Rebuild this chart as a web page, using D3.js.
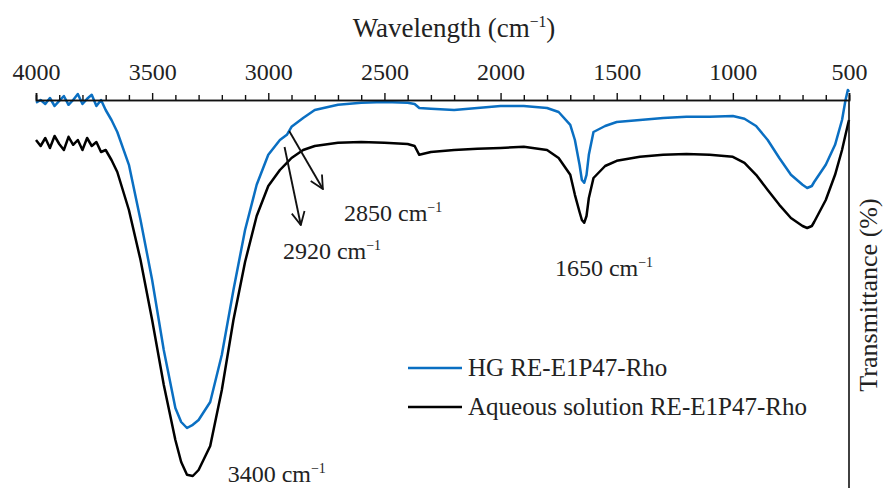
<!DOCTYPE html>
<html>
<head>
<meta charset="utf-8">
<script src="https://d3js.org/d3.v7.min.js"></script>
<style>
  body { margin: 0; background: #fff; }
  text { font-family: "Liberation Serif", "Times New Roman", serif; fill: #222; }
</style>
</head>
<body>
<script>
// wavenumbers (cm-1), shared by both spectra
var wavenumbers = [4000,3980,3960,3940,3920,3900,3880,3860,3840,3820,3800,3780,3760,3740,3720,3700,
  3675,3650,3600,3550,3500,3450,3400,3375,3350,3325,3300,3250,3200,3150,3100,3050,3000,2950,2920,2900,
  2850,2800,2700,2600,2500,2400,2370,2350,2300,2200,2100,2000,1900,1800,1750,1700,1680,1660,1650,1640,
  1630,1620,1600,1550,1500,1400,1300,1200,1100,1000,950,900,850,800,750,700,680,660,650,600,560,530,515,505,500];

// transmittance (arbitrary %)
var hgValues = [96.8,97.5,96.5,98,96,97.3,98.5,96.3,97.5,99,96.5,97.8,98.8,96,97.5,95,
  92.5,89.5,81.3,67.5,52.5,35,20.5,17,15.5,16.3,17.5,22,33.8,50,65,76.3,83.8,87.5,88.8,90.8,
  93,95,96.3,96.8,97,96.8,96.5,95.5,95.3,95,95.5,96,96,95.5,94.5,91.3,87.5,81.3,77.5,76.8,
  78.8,83.8,89.5,91,92,92.5,93,93.3,93.3,93.5,92.8,91,87.5,83,78.8,76.3,75.5,76,77,81.3,86.3,92.5,97.5,100,99.5];

var aqValues = [87.5,86,88,85.5,88.5,86.5,85,88.3,86.3,87.5,85,88,86,87,84.5,85,
  82.5,79.5,70,57.5,42.5,26.3,12.5,7,3.8,3.5,5,11,25,42.5,57,68.5,76,80,81.8,83,
  85,86,86.8,87,86.8,86.5,86,83.8,84.5,85,85.3,85.5,85.8,85,83,78.8,73.8,69.5,67.5,66.8,
  68.5,73,78,81,82.3,83.3,83.8,84,83.8,83.3,81.8,78.8,75,71.3,68,66,65.5,66,67,72.5,78.8,85,88.8,91.3,92.5];

var majorTicks = [4000,3500,3000,2500,2000,1500,1000,500];
var minorTicks = d3.range(4000, 499, -100).filter(function(d) { return d % 500 !== 0; });

var seriesNames = ["HG RE-E1P47-Rho", "Aqueous solution RE-E1P47-Rho"];
var seriesColors = ["#0a6fc2", "#000000"];

// peak annotations: [label, wavenumber where label starts]
var peakLabels = [
  ["3400", 3175],
  ["2920", 2937],
  ["2850", 2674],
  ["1650", 1766]
];

var width = 884, height = 488;
var svg = d3.select("body").append("svg")
    .attr("width", width)
    .attr("height", height);

var x = d3.scaleLinear().domain([4000, 500]).range([36, 849]);
var y = d3.scaleLinear().domain([0, 100]).range([490, 90]);

// spectra
var line = d3.line()
    .x(function(d) { return x(d[0]); })
    .y(function(d) { return y(d[1]); });

[hgValues, aqValues].forEach(function(vals, i) {
  svg.append("path")
      .datum(wavenumbers.map(function(w, j) { return [w, vals[j]]; }))
      .attr("fill", "none")
      .attr("stroke", seriesColors[i])
      .attr("stroke-width", 2.5)
      .attr("stroke-linejoin", "round")
      .attr("d", line);
});

// top axis
var axisY = 100;
var gMinor = svg.append("g").attr("transform", "translate(0," + axisY + ")")
    .call(d3.axisTop(x).tickValues(minorTicks).tickSize(5).tickFormat(""));
var gMajor = svg.append("g").attr("transform", "translate(0," + axisY + ")")
    .call(d3.axisTop(x).tickValues(majorTicks).tickSize(7).tickPadding(13).tickFormat(d3.format("d")));
[gMinor, gMajor].forEach(function(g) {
  g.select(".domain").attr("stroke", "#111").attr("stroke-width", 1.6);
  g.selectAll(".tick line").attr("stroke", "#111").attr("stroke-width", 1.4);
});
gMajor.selectAll(".tick text")
    .style("font-family", "Liberation Serif, serif")
    .style("font-size", "24px")
    .attr("fill", "#222");

// right axis line
svg.append("line")
    .attr("x1", x(500)).attr("x2", x(500))
    .attr("y1", axisY).attr("y2", height)
    .attr("stroke", "#111").attr("stroke-width", 1.6);

// helper: text with "cm^-1" superscript
function cmLabel(sel, before, after, size) {
  sel.append("tspan").text(before + "cm");
  sel.append("tspan").attr("font-size", size * 0.58).attr("dy", -size * 0.38).text("\u22121");
  if (after) sel.append("tspan").attr("dy", size * 0.38).text(after);
}

var title = svg.append("text")
    .attr("x", 454).attr("y", 37)
    .attr("text-anchor", "middle")
    .style("font-size", "27px");
cmLabel(title, "Wavelength (", ")", 27);

svg.append("text")
    .attr("transform", "translate(877,295)rotate(-90)")
    .attr("text-anchor", "middle")
    .style("font-size", "26px")
    .text("Transmittance (%)");

// peak labels
var labelY = { "3400": 482, "2920": 259, "2850": 221, "1650": 276 };
peakLabels.forEach(function(p) {
  var t = svg.append("text")
      .attr("x", x(p[1]))
      .attr("y", labelY[p[0]])
      .style("font-size", "24px");
  cmLabel(t, p[0] + " ", null, 24);
});

// arrows for 2920 and 2850
svg.append("defs").append("marker")
    .attr("id", "arrow")
    .attr("viewBox", "0 0 16 16")
    .attr("refX", 15).attr("refY", 8)
    .attr("markerWidth", 16).attr("markerHeight", 16)
    .attr("markerUnits", "userSpaceOnUse")
    .attr("orient", "auto")
  .append("path")
    .attr("d", "M2,1.5 L15,8 L2,14.5")
    .attr("fill", "none")
    .attr("stroke", "#111")
    .attr("stroke-width", 1.8);

var arrows = [[2930, 147, 2860, 225], [2910, 131, 2765, 189]];
arrows.forEach(function(a) {
  svg.append("line")
      .attr("x1", x(a[0])).attr("y1", a[1])
      .attr("x2", x(a[2])).attr("y2", a[3])
      .attr("stroke", "#111").attr("stroke-width", 1.9)
      .attr("marker-end", "url(#arrow)");
});

// legend
var legend = svg.append("g").attr("transform", "translate(408,368)");
seriesNames.forEach(function(name, i) {
  var g = legend.append("g").attr("transform", "translate(0," + (i * 39) + ")");
  g.append("line").attr("x1", 0).attr("x2", 54)
      .attr("stroke", seriesColors[i]).attr("stroke-width", 2.4);
  g.append("text").attr("x", 60).attr("y", 8)
      .style("font-size", "25px")
      .text(name);
});
</script>
</body>
</html>
